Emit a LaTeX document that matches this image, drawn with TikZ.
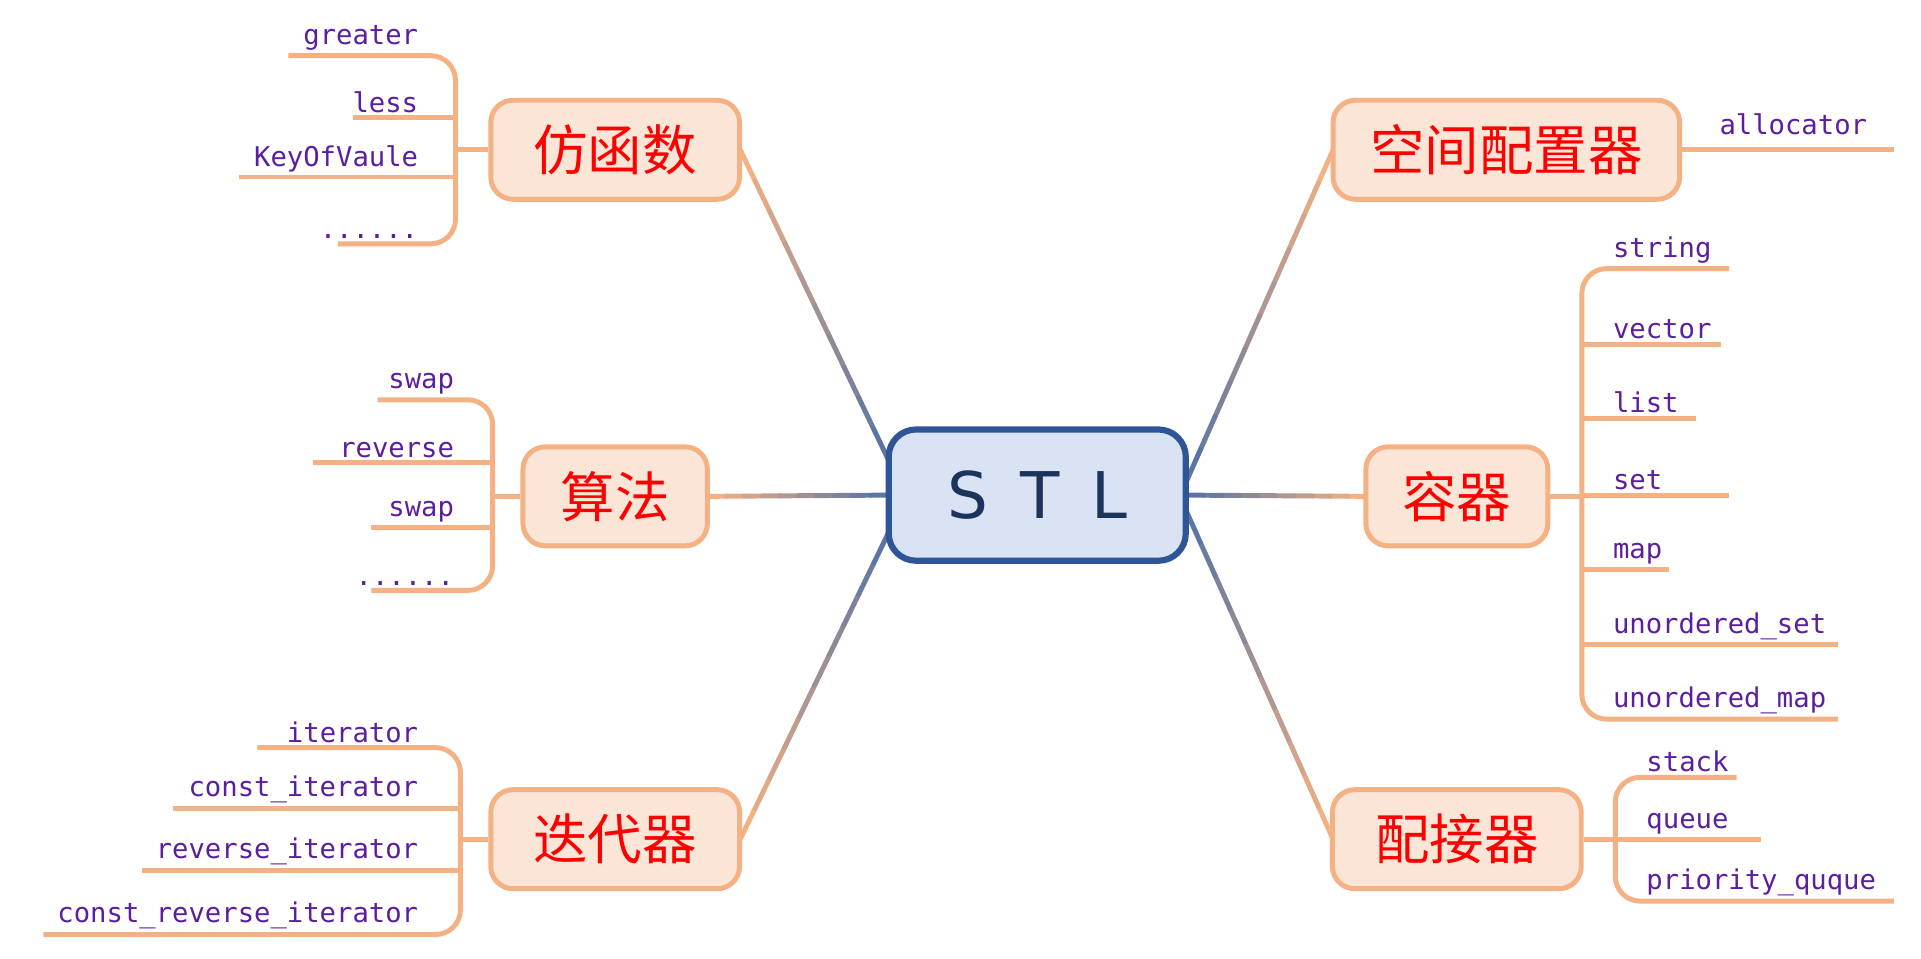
\documentclass[tikz,border=0pt]{standalone}
\usepackage{fontspec}
\newfontfamily\cjk{Noto Sans CJK SC}
\newfontfamily\leaffont{DejaVu Sans Mono}
\newfontfamily\hubfont{DejaVu Sans}
\definecolor{peach}{HTML}{F4B183}
\definecolor{peachfill}{HTML}{FBE5D6}
\definecolor{hubblue}{HTML}{2F5597}
\definecolor{hubfill}{HTML}{DAE3F3}
\definecolor{linkblue}{HTML}{4A6FA5}
\definecolor{leafpurple}{HTML}{5B1E9E}
\usetikzlibrary{calc}

% gradient link from a topic box to the hub
\newcommand{\gradlink}[2]{%
  \foreach \i in {0,...,9}{
    \pgfmathsetmacro{\mixval}{100-\i*10}
    \draw[link, peach!\mixval!linkblue] ($(#1)!\i/10!(#2)$) -- ($(#1)!{(\i+1)/10}!(#2)$);
  }}

\begin{document}
\begin{tikzpicture}[x=1pt, y=-1pt,
    hub/.style={draw=hubblue, fill=hubfill, line width=5pt, rounded corners=22pt,
      minimum width=240pt, minimum height=106pt, font=\hubfont\fontsize{52}{52}\selectfont, text=hubblue!60!black},
    topic/.style={draw=peach, fill=peachfill, line width=4pt, rounded corners=18pt,
      minimum height=80pt, font=\cjk\fontsize{44}{44}\selectfont, text=red},
    leaf/.style={font=\leaffont\fontsize{22}{22}\selectfont, text=leafpurple, inner sep=2pt},
    twig/.style={draw=peach, line width=4pt, rounded corners=20pt},
    link/.style={line width=4pt, line cap=round}]
  \useasboundingbox (0,0) rectangle (1552,774);

  % links to the hub
  \coordinate (h1) at (718,372);
  \coordinate (h2) at (718,400);
  \coordinate (h3) at (718,430);
  \coordinate (h4) at (958,390);
  \coordinate (h5) at (958,400);
  \coordinate (h6) at (958,412);
  \coordinate (fe) at (598,121);
  \coordinate (ae) at (572,401);
  \coordinate (ie) at (598,678);
  \coordinate (sw) at (1077,121);
  \coordinate (cw) at (1104,401);
  \coordinate (dw) at (1077,678);
  \gradlink{fe}{h1}
  \gradlink{ae}{h2}
  \gradlink{ie}{h3}
  \gradlink{sw}{h4}
  \gradlink{cw}{h5}
  \gradlink{dw}{h6}

  % hub and topics
  \node[hub] (stl) at (838,400) {S\,\,\,T\,\,\,L};
  \node[topic, minimum width=201pt] (functor) at (497,121) {仿函数};
  \node[topic, minimum width=149pt] (algo) at (497,401) {算法};
  \node[topic, minimum width=201pt] (iter) at (497,678) {迭代器};
  \node[topic, minimum width=280pt] (alloc) at (1217,121) {空间配置器};
  \node[topic, minimum width=147pt] (cont) at (1177,401) {容器};
  \node[topic, minimum width=201pt] (adapt) at (1177,678) {配接器};

  % functor leaves
  \draw[twig] (233,45) -- (368,45) -- (368,197) -- (273,197);
  \draw[twig] (285,95) -- (368,95);
  \draw[twig] (193,143) -- (368,143);
  \draw[twig] (functor.west) -- (368,121);
  \node[leaf, anchor=south east] (f1) at (340,43) {greater};
  \node[leaf, anchor=south east] (f2) at (340,93) {less};
  \node[leaf, anchor=south east] (f3) at (340,141) {KeyOfVaule};
  \node[leaf, anchor=south east] (f4) at (340,195) {......};

  % algorithm leaves
  \draw[twig] (305,323) -- (398,323) -- (398,477) -- (300,477);
  \draw[twig] (253,374) -- (398,374);
  \draw[twig] (300,426) -- (398,426);
  \draw[twig] (algo.west) -- (398,401);
  \node[leaf, anchor=south east] (a1) at (369,321) {swap};
  \node[leaf, anchor=south east] (a2) at (369,372) {reverse};
  \node[leaf, anchor=south east] (a3) at (369,424) {swap};
  \node[leaf, anchor=south east] (a4) at (369,475) {......};

  % iterator leaves
  \draw[twig] (208,604) -- (372,604) -- (372,755) -- (35,755);
  \draw[twig] (140,653) -- (372,653);
  \draw[twig] (115,703) -- (372,703);
  \draw[twig] (iter.west) -- (372,678);
  \node[leaf, anchor=south east] (i1) at (340,602) {iterator};
  \node[leaf, anchor=south east] (i2) at (340,651) {const\_iterator};
  \node[leaf, anchor=south east] (i3) at (340,701) {reverse\_iterator};
  \node[leaf, anchor=south east] (i4) at (340,753) {const\_reverse\_iterator};

  % allocator leaf
  \draw[twig] (alloc.east) -- (1530,121);
  \node[leaf, anchor=south west] (s1) at (1387,111) {allocator};

  % container leaves
  \draw[twig] (1397,217) -- (1278,217) -- (1278,581) -- (1485,581);
  \foreach \yy/\xx in {278/1390, 338/1370, 400/1397, 460/1348, 521/1485}
    \draw[twig] (1278,\yy) -- (\xx,\yy);
  \draw[twig] (cont.east) -- (1278,401);
  \node[leaf, anchor=south west] (c1) at (1301,215) {string};
  \node[leaf, anchor=south west] (c2) at (1301,276) {vector};
  \node[leaf, anchor=south west] (c3) at (1301,336) {list};
  \node[leaf, anchor=south west] (c4) at (1301,398) {set};
  \node[leaf, anchor=south west] (c5) at (1301,458) {map};
  \node[leaf, anchor=south west] (c6) at (1301,519) {unordered\_set};
  \node[leaf, anchor=south west] (c7) at (1301,579) {unordered\_map};

  % adapter leaves
  \draw[twig] (1403,628) -- (1305,628) -- (1305,728) -- (1530,728);
  \draw[twig] (1305,678) -- (1423,678);
  \draw[twig] (adapt.east) -- (1305,678);
  \node[leaf, anchor=south west] (d1) at (1328,626) {stack};
  \node[leaf, anchor=south west] (d2) at (1328,676) {queue};
  \node[leaf, anchor=south west] (d3) at (1328,726) {priority\_quque};
\end{tikzpicture}
\end{document}
